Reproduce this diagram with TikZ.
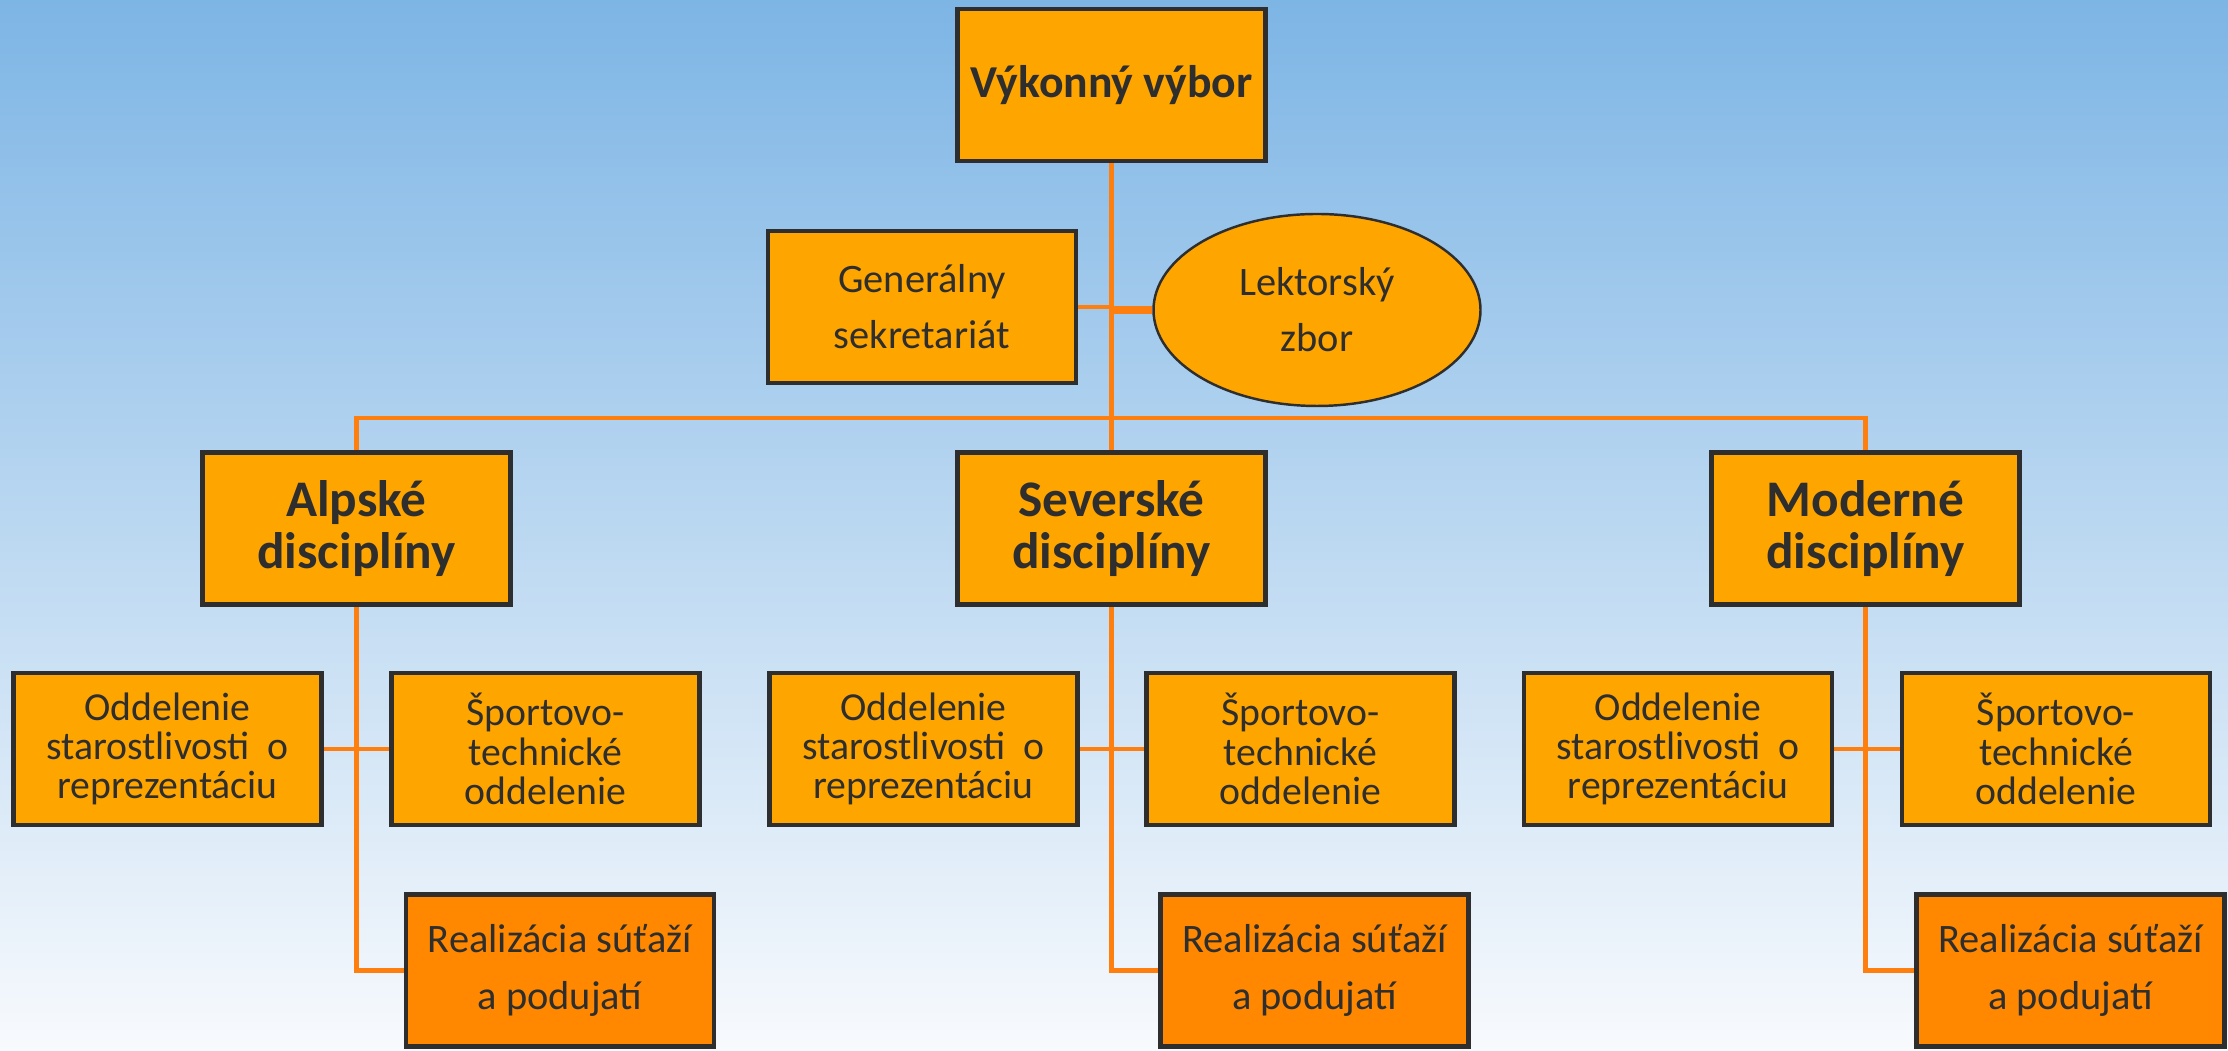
\documentclass[tikz,border=0pt]{standalone}
\usepackage{fontspec}
\setmainfont{Carlito}
\usetikzlibrary{shapes.geometric}
\definecolor{bgtop}{HTML}{7DB5E5}
\definecolor{bgbot}{HTML}{F8FAFD}
\definecolor{boxfill}{HTML}{FFA500}
\definecolor{boxdark}{HTML}{FF8800}
\definecolor{linecol}{HTML}{FF7F0E}
\definecolor{textcol}{HTML}{2E2E2E}
\tikzset{
  orgbox/.style={draw=textcol, fill=boxfill, line width=1.4pt, text=textcol,
    minimum width=3.08cm, minimum height=1.52cm, align=center, inner sep=2pt},
  headbox/.style={orgbox, font=\bfseries\fontsize{14.6}{14.8}\selectfont},
  subbox/.style={orgbox, font=\fontsize{11.3}{11.2}\selectfont},
  realbox/.style={orgbox, fill=boxdark, font=\fontsize{11.5}{16}\selectfont},
  conn/.style={draw=linecol, line width=1.4pt}
}
\begin{document}
\begin{tikzpicture}
    \useasboundingbox (0,0) rectangle (22.28,10.51);
    \shade[top color=bgtop, bottom color=bgbot] (0,0) rectangle (22.28,10.51); % Hintergrund

    % oberste Ebene
    \node[orgbox, font=\bfseries\fontsize{13}{15}\selectfont] (vyk) at (11.115,9.66) {Výkonný výbor};
    \node[orgbox, font=\fontsize{11.5}{16}\selectfont] (gen) at (9.22,7.44) {Generálny\\sekretariát};
    \node[ellipse, draw=textcol, fill=boxfill, line width=0.7pt, text=textcol,
          minimum width=3.27cm, minimum height=1.92cm, align=center,
          font=\fontsize{11.5}{16}\selectfont] (lek) at (13.17,7.41) {Lektorský\\zbor};

    % Disziplinen
    \node[headbox] (alp) at (3.565,5.225) {Alpské\\disciplíny};
    \node[headbox] (sev) at (11.115,5.225) {Severské\\disciplíny};
    \node[headbox] (mod) at (18.655,5.225) {Moderné\\disciplíny};
    \coordinate (bus) at (11.115,6.33);

    % Abteilungen
    \foreach \n/\x in {1/1.675, 2/9.235, 3/16.78}
      \node[subbox] (odd\n) at (\x,3.02) {Oddelenie\\starostlivosti\ \ o\\reprezentáciu};
    \foreach \n/\x in {1/5.455, 2/13.005, 3/20.56}
      \node[subbox] (spo\n) at (\x,3.02) {Športovo-\\technické\\oddelenie};
    \foreach \n/\x in {1/5.60, 2/13.145, 3/20.705}
      \node[realbox] (real\n) at (\x,0.805) {Realizácia súťaží\\a podujatí};

    % Verbindungen
    \draw[conn] (vyk.south) -- (sev.north);
    \draw[conn] (gen.east) -- (gen.east -| vyk.south);
    \draw[conn, line width=2.2pt] (lek.west) -- (lek.west -| vyk.south);
    \draw[conn] (alp.north) |- (bus) -| (mod.north);
    \foreach \n/\d in {1/alp, 2/sev, 3/mod} {
      \draw[conn] (odd\n.east) -- (spo\n.west);
      \draw[conn] (\d.south) |- (real\n.west);
    }
\end{tikzpicture}
\end{document}
